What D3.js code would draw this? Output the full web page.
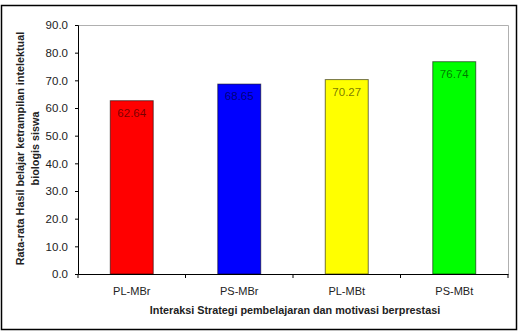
<!DOCTYPE html>
<html><head><meta charset="utf-8">
<script src="https://cdn.jsdelivr.net/npm/d3@7"></script>
<style>body{margin:0;background:#fff}svg{display:block;font-family:"Liberation Sans",Arial,sans-serif}</style>
</head><body>
<svg id="c" width="525" height="334"></svg>
<script>
const categories = ["PL-MBr", "PS-MBr", "PL-MBt", "PS-MBt"];
const values = [62.64, 68.65, 70.27, 76.74];
const barColors = ["#ff0000", "#0000ff", "#ffff00", "#00ff00"];
const yTicks = [0, 10, 20, 30, 40, 50, 60, 70, 80, 90];
const yTitle = ["Rata-rata Hasil belajar ketrampilan intelektual", "biologis siswa"];
const xTitle = "Interaksi Strategi pembelajaran dan motivasi berprestasi";

const svg = d3.select("#c");
const L = 78, R = 508, T = 25, B = 274;

svg.append("rect").attr("x", 1.5).attr("y", 5.5).attr("width", 515).attr("height", 324)
  .attr("fill", "#fff").attr("stroke", "#000").attr("stroke-width", 1.5);

const x = d3.scaleBand().domain(categories).range([L, R]).paddingInner(0.6).paddingOuter(0.3);
const y = d3.scaleLinear().domain([0, 90]).range([B, T]);

// plot area frame (gray top/right)
svg.append("path").attr("d", `M${L},${T+0.5}H${R+0.5}V${B}`).attr("fill", "none").attr("stroke", "#b0b0b0").attr("stroke-width", 1);

// bars
svg.selectAll("rect.bar").data(values).join("rect").attr("class", "bar")
  .attr("x", (d, i) => x(categories[i]))
  .attr("width", x.bandwidth())
  .attr("y", d => y(d))
  .attr("height", d => y(0) - y(d))
  .attr("fill", (d, i) => barColors[i])
  .attr("stroke", "rgba(0,0,0,0.55)").attr("stroke-width", 1);

// value labels
svg.selectAll("text.val").data(values).join("text").attr("class", "val")
  .attr("x", (d, i) => x(categories[i]) + x.bandwidth() / 2)
  .attr("y", d => y(d) + 16)
  .attr("text-anchor", "middle").attr("font-size", 11.5)
  .attr("fill", "rgba(0,0,0,0.55)")
  .text(d => d.toFixed(2));

// y axis
const ya = svg.append("g").attr("transform", `translate(${L},0)`)
  .call(d3.axisLeft(y).tickValues(yTicks).tickFormat(d3.format(".1f")).tickSize(3).tickPadding(7));
ya.select(".domain").attr("stroke", "#000");
ya.selectAll("text").attr("font-size", 11.5).attr("fill", "#222").attr("font-family", "Liberation Sans, Arial, sans-serif");

// x axis
const xa = svg.append("g").attr("transform", `translate(0,${B})`)
  .call(d3.axisBottom(x).tickSize(0).tickPadding(13));
xa.select(".domain").attr("stroke", "#000");
xa.selectAll("text").attr("font-size", 11).attr("fill", "#222").attr("font-family", "Liberation Sans, Arial, sans-serif");
// boundary tick marks
const bounds = d3.range(categories.length + 1).map(i => L + i * (R - L) / categories.length);
svg.selectAll("line.xt").data(bounds).join("line").attr("class", "xt")
  .attr("x1", d => d).attr("x2", d => d).attr("y1", B).attr("y2", B + 4)
  .attr("stroke", "#000");

// x title
svg.append("text").attr("x", (L + R) / 2 + 2).attr("y", 314).attr("text-anchor", "middle")
  .attr("font-size", 10.8).attr("font-weight", "bold").attr("fill", "#222").text(xTitle);

// y title
const yt = svg.append("text").attr("transform", `translate(24,${(T + B) / 2 - 1}) rotate(-90)`)
  .attr("text-anchor", "middle").attr("font-size", 10.8).attr("font-weight", "bold").attr("fill", "#222");
yt.selectAll("tspan").data(yTitle).join("tspan").attr("x", 0).attr("dy", (d, i) => i ? 14.5 : 0).text(d => d);
</script>
</body></html>
